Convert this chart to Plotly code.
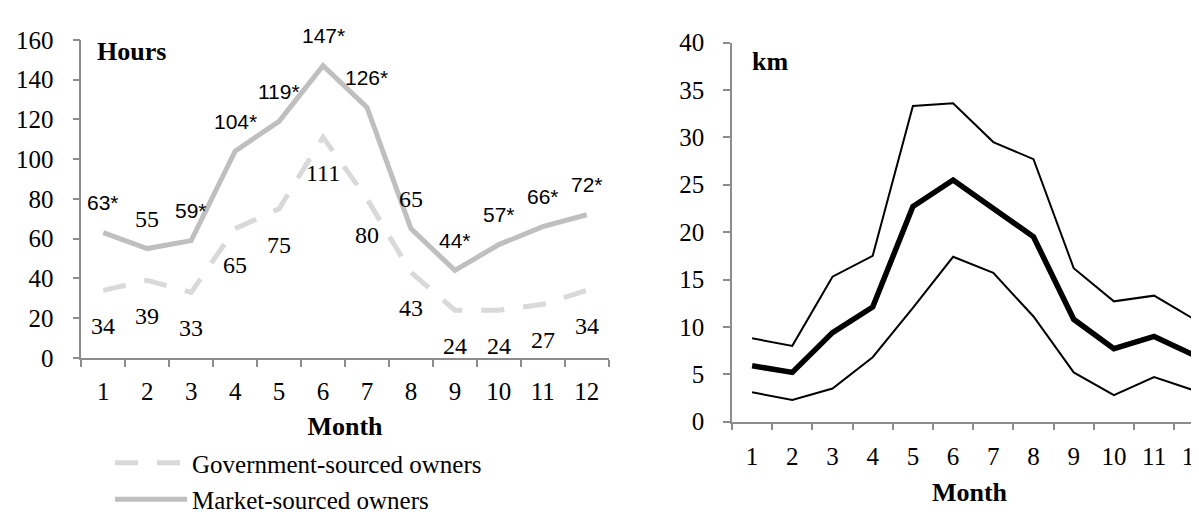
import plotly.graph_objects as go

months = [str(m) for m in range(1, 13)]

# Left panel: hours
gov_hours = [34, 39, 33, 65, 75, 111, 80, 43, 24, 24, 27, 34]
market_hours = [63, 55, 59, 104, 119, 147, 126, 65, 44, 57, 66, 72]
market_signif = [True, False, True, True, True, True, True, False, True, True, True, True]

# Right panel: km
km_upper = [8.8, 8.0, 15.3, 17.5, 33.3, 33.6, 29.5, 27.7, 16.2, 12.7, 13.3, 10.8]
km_mid = [5.9, 5.2, 9.4, 12.1, 22.7, 25.5, 22.5, 19.5, 10.8, 7.7, 9.0, 7.0]
km_lower = [3.1, 2.3, 3.5, 6.8, 12.0, 17.4, 15.7, 11.1, 5.2, 2.8, 4.7, 3.3]

W, H = 1199, 514
SERIF = "Liberation Serif, Times New Roman, serif"
SANS = "Liberation Sans, Arial, sans-serif"
AXIS_COL = "#8c8c8c"
TICK_SIZE = 25

fig = go.Figure()

fig.add_trace(go.Scatter(x=months, y=gov_hours, mode="lines", name="Government-sourced owners",
                         legendgroup="g", line=dict(color="#d9d9d9", width=5, dash="23px,19px"),
                         xaxis="x", yaxis="y", hoverinfo="skip"))
fig.add_trace(go.Scatter(x=months, y=market_hours, mode="lines", name="Market-sourced owners",
                         legendgroup="m", line=dict(color="#bfbfbf", width=5),
                         xaxis="x", yaxis="y", hoverinfo="skip"))

for series, w in ((km_upper, 2), (km_mid, 5.5), (km_lower, 2)):
    fig.add_trace(go.Scatter(x=months, y=series, mode="lines", showlegend=False,
                             line=dict(color="black", width=w),
                             xaxis="x2", yaxis="y2", hoverinfo="skip"))

annotations = []
for i, (v, s) in enumerate(zip(market_hours, market_signif)):
    annotations.append(dict(x=i, y=v, xref="x", yref="y", showarrow=False, yshift=30,
                            text=f"{v}*" if s else f"{v}",
                            font=dict(family=SANS if s else SERIF, size=21 if s else 24, color="black")))
for i, v in enumerate(gov_hours):
    annotations.append(dict(x=i, y=v, xref="x", yref="y", showarrow=False, yshift=-36,
                            text=f"{v}", font=dict(family=SERIF, size=24, color="black")))

annotations.append(dict(x=87 / W, y=1 - 33 / H, xref="paper", yref="paper", showarrow=False,
                        xanchor="left", yanchor="middle", text="<b>Hours</b>",
                        font=dict(family=SERIF, size=26, color="black")))
annotations.append(dict(x=742 / W, y=1 - 43 / H, xref="paper", yref="paper", showarrow=False,
                        xanchor="left", yanchor="middle", text="<b>km</b>",
                        font=dict(family=SERIF, size=26, color="black")))

axis_common = dict(showline=True, linecolor=AXIS_COL, linewidth=1.5, ticks="outside",
                   tickcolor=AXIS_COL, tickwidth=1.5, showgrid=False, zeroline=False,
                   ticklen=7, tickfont=dict(family=SERIF, size=TICK_SIZE, color="black"))
title_font = dict(family=SERIF, size=26, color="black")

left_x0, left_x1 = 73.3 / W, 600.7 / W
right_x0 = 724 / W
cat_w_right = 40.2
right_span = (W - 724) / cat_w_right  # categories visible before the page edge

fig.update_layout(
    width=W, height=H,
    margin=dict(l=0, r=0, t=0, b=0),
    paper_bgcolor="white", plot_bgcolor="white",
    showlegend=True,
    legend=dict(x=102 / W, y=1 - 447 / H, xanchor="left", yanchor="top",
                font=dict(family=SERIF, size=25, color="black"),
                bgcolor="rgba(0,0,0,0)", traceorder="grouped", tracegroupgap=1, itemwidth=72),
    annotations=annotations,
    xaxis=dict(domain=[left_x0, left_x1], type="category", tickson="boundaries",
               range=[-0.5, 11.5], ticklabelstandoff=10,
               title=dict(text="<b>Month</b>", font=title_font, standoff=13),
               anchor="y", **axis_common),
    yaxis=dict(domain=[1 - 359.3 / H, 1 - 20 / H], range=[0, 160], dtick=20,
               ticklabelstandoff=14, anchor="x", **axis_common),
    xaxis2=dict(domain=[right_x0, 1.0], type="category", tickson="boundaries",
                range=[-0.5, -0.5 + right_span], ticklabelstandoff=12,
                title=dict(text="<b>Month</b>", font=title_font, standoff=13),
                anchor="y2", **axis_common),
    yaxis2=dict(domain=[1 - 427.3 / H, 1 - 23 / H], range=[0, 40], dtick=5,
                ticklabelstandoff=14, anchor="x2", **axis_common),
)

fig.write_html("out.html")
